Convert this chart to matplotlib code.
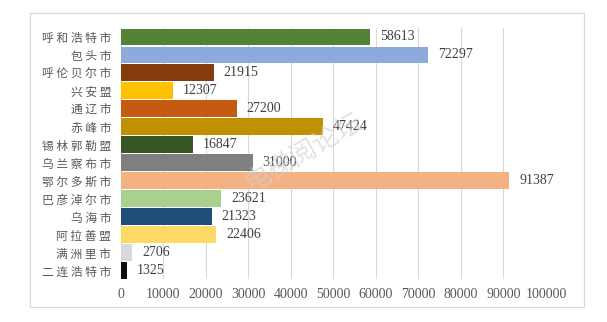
import matplotlib.pyplot as plt
from matplotlib.patches import Rectangle

# Inner Mongolia cities / leagues and their values
cities = ['呼和浩特市', '包头市', '呼伦贝尔市', '兴安盟', '通辽市', '赤峰市', '锡林郭勒盟',
          '乌兰察布市', '鄂尔多斯市', '巴彦淖尔市', '乌海市', '阿拉善盟', '满洲里市', '二连浩特市']
values = [58613, 72297, 21915, 12307, 27200, 47424, 16847,
          31000, 91387, 23621, 21323, 22406, 2706, 1325]
colors = ['#548235', '#8EA9DB', '#843C0C', '#FFC000', '#C55A11', '#BF9000', '#375623',
          '#7F7F7F', '#F4B183', '#A9D18E', '#1F4E79', '#FFD966', '#D9D9D9', '#0D0D0D']
xticks = list(range(0, 100001, 10000))

cjk = ['Noto Sans CJK SC', 'DejaVu Sans']
num_font = 'Liberation Serif'

fig = plt.figure(figsize=(6.07, 3.22), dpi=100)
ax = fig.add_axes([0.1993, 0.132, 0.7002, 0.781])

# outer chart frame
fig.patches.append(Rectangle((30 / 607, 1 - 307 / 322), 554 / 607, 294 / 322,
                             transform=fig.transFigure, fill=False,
                             edgecolor='#d9d9d9', linewidth=0.9))

ypos = list(range(len(cities)))
ax.barh(ypos, values, height=0.94, color=colors, zorder=2)

for y, v in zip(ypos, values):
    ax.annotate(str(v), (v, y), xytext=(7, 0), textcoords='offset points',
                va='center', ha='left', fontsize=10, family=num_font, color='#404040')

ax.set_xlim(0, 100000)
ax.set_ylim(len(cities) - 0.5, -0.5)
ax.set_xticks(xticks)
ax.set_xticklabels([str(t) for t in xticks], fontsize=10, family=num_font, color='#595959')
ax.set_yticks(ypos)
ax.set_yticklabels([' '.join(c) for c in cities], fontsize=8.5, family=cjk, color='#595959')
ax.tick_params(length=0, pad=6)
ax.tick_params(axis='y', pad=7)

ax.grid(axis='x', color='#d9d9d9', linewidth=0.8, zorder=0)
for s in ax.spines.values():
    s.set_visible(False)

# faint watermark
fig.text(0.50, 0.53, '电梯阅论坛', family=cjk, fontsize=19, color='#d0d0d0', alpha=0.6,
         rotation=30, ha='center', va='center', fontweight='light')

fig.savefig('out.png', dpi=100)
